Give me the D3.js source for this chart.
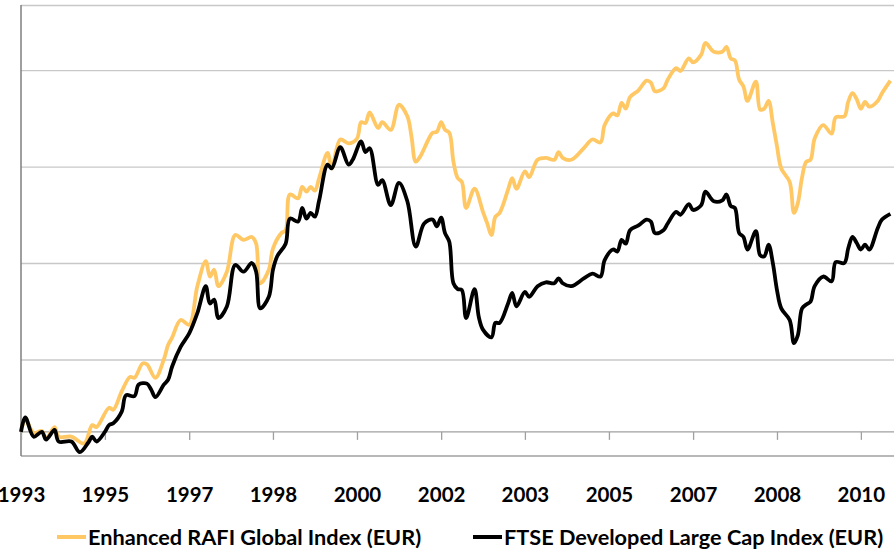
<!DOCTYPE html>
<html>
<head>
<meta charset="utf-8">
<script src="https://cdn.jsdelivr.net/npm/d3@7"></script>
<style>
  body { margin: 0; background: #fff; }
  svg text { font-family: Lato, "Open Sans", sans-serif; font-weight: 700; fill: #000; }
</style>
</head>
<body>
<div id="chart"></div>
<script>
// monthly index levels (EUR)
var rafi = [
  ["1993-10",100],["1993-11",113],["1994-01",99],["1994-03",101],["1994-04",93],["1994-06",105],["1994-07",95],["1994-10",95],
  ["1995-01",88],["1995-03",107],["1995-04",105],["1995-07",125],["1995-08",123],["1995-10",142],["1995-12",157],["1996-01",156],
  ["1996-03",171],["1996-04",170],["1996-06",156],["1996-08",175],["1996-09",190],["1996-10",198],["1996-12",216],["1997-02",211],
  ["1997-04",251],["1997-06",277],["1997-07",261],["1997-08",268],["1997-09",251],["1997-11",266],["1998-01",304],["1998-03",299],
  ["1998-05",302],["1998-06",295],["1998-07",254],["1998-09",268],["1998-10",290],["1998-12",306],["1999-01",309],["1999-02",346],
  ["1999-04",342],["1999-05",354],["1999-06",349],["1999-07",354],["1999-08",350],["1999-09",363],["1999-11",389],["1999-12",373],
  ["2000-02",403],["2000-04",399],["2000-06",404],["2000-07",421],["2000-08",420],["2000-09",431],["2000-11",415],["2000-12",421],
  ["2001-02",413],["2001-04",439],["2001-06",427],["2001-07",406],["2001-08",380],["2001-09",385],["2001-11",403],["2001-12",410],
  ["2002-01",411],["2002-02",421],["2002-03",413],["2002-04",410],["2002-05",380],["2002-06",363],["2002-07",359],["2002-08",332],
  ["2002-10",352],["2002-12",328],["2003-01",316],["2003-02",304],["2003-03",323],["2003-04",327],["2003-06",351],["2003-07",363],
  ["2003-08",352],["2003-10",370],["2003-11",364],["2004-01",382],["2004-03",384],["2004-05",382],["2004-06",390],["2004-07",384],
  ["2004-09",382],["2004-12",394],["2005-02",403],["2005-04",400],["2005-05",418],["2005-07",430],["2005-08",428],["2005-09",441],
  ["2005-10",435],["2005-11",447],["2006-01",454],["2006-03",464],["2006-04",462],["2006-05",453],["2006-07",456],["2006-08",465],
  ["2006-10",477],["2006-11",474],["2007-01",487],["2007-02",483],["2007-04",491],["2007-05",503],["2007-07",494],["2007-09",494],
  ["2007-10",499],["2007-11",487],["2007-12",485],["2008-01",465],["2008-02",458],["2008-03",443],["2008-05",463],["2008-06",434],
  ["2008-07",435],["2008-08",443],["2008-09",420],["2008-10",396],["2008-11",373],["2009-01",359],["2009-02",327],["2009-03",337],
  ["2009-04",364],["2009-05",380],["2009-06",382],["2009-07",404],["2009-09",418],["2009-11",409],["2009-12",426],["2010-02",427],
  ["2010-03",442],["2010-04",451],["2010-05",445],["2010-06",435],["2010-07",442],["2010-08",437],["2010-10",443],["2010-11",451],
  ["2011-01",464]
];

var ftse = [
  ["1993-10",100],["1993-11",115],["1994-01",95],["1994-03",100],["1994-04",92],["1994-06",102],["1994-07",90],["1994-10",90],
  ["1994-12",79],["1995-02",89],["1995-03",95],["1995-04",90],["1995-06",100],["1995-07",107],["1995-08",109],["1995-10",121],
  ["1995-11",138],["1996-01",137],["1996-02",149],["1996-04",150],["1996-05",144],["1996-06",136],["1996-08",149],["1996-09",154],
  ["1996-10",168],["1996-12",188],["1997-02",202],["1997-04",223],["1997-06",251],["1997-07",233],["1997-08",237],["1997-09",218],
  ["1997-11",230],["1998-01",273],["1998-03",266],["1998-05",275],["1998-06",266],["1998-07",228],["1998-09",240],["1998-10",268],
  ["1998-11",282],["1999-01",295],["1999-02",321],["1999-04",318],["1999-05",332],["1999-06",321],["1999-07",327],["1999-08",323],
  ["1999-09",340],["1999-11",377],["1999-12",373],["2000-02",395],["2000-04",377],["2000-05",382],["2000-07",401],["2000-08",390],
  ["2000-09",394],["2000-11",356],["2000-12",361],["2001-02",335],["2001-04",358],["2001-06",339],["2001-08",292],["2001-10",316],
  ["2001-12",320],["2002-01",313],["2002-02",322],["2002-03",306],["2002-04",297],["2002-05",254],["2002-06",248],["2002-07",247],
  ["2002-08",218],["2002-10",248],["2002-11",219],["2002-12",206],["2003-02",198],["2003-03",213],["2003-04",213],["2003-06",233],
  ["2003-07",244],["2003-08",230],["2003-10",245],["2003-11",240],["2004-01",251],["2004-03",255],["2004-05",254],["2004-06",259],
  ["2004-07",254],["2004-09",251],["2004-12",259],["2005-02",264],["2005-04",261],["2005-05",278],["2005-07",289],["2005-08",287],
  ["2005-09",299],["2005-10",295],["2005-11",309],["2006-01",314],["2006-03",320],["2006-04",318],["2006-05",306],["2006-07",309],
  ["2006-08",316],["2006-10",328],["2006-11",325],["2007-01",336],["2007-02",330],["2007-04",335],["2007-05",349],["2007-07",339],
  ["2007-09",340],["2007-10",346],["2007-11",334],["2007-12",332],["2008-01",306],["2008-02",302],["2008-03",289],["2008-05",308],
  ["2008-06",283],["2008-07",282],["2008-08",294],["2008-09",275],["2008-10",247],["2008-11",228],["2009-01",216],["2009-02",192],
  ["2009-03",200],["2009-04",228],["2009-05",232],["2009-06",235],["2009-07",251],["2009-09",261],["2009-11",256],["2009-12",276],
  ["2010-02",275],["2010-03",290],["2010-04",302],["2010-05",296],["2010-06",289],["2010-07",294],["2010-08",289],["2010-10",311],
  ["2010-11",320],["2011-01",326]
];

var tickMonths = ["1993-10","1995-06","1997-02","1998-10","2000-06","2002-02","2003-10","2005-06","2007-02","2008-10","2010-06"];
var gridValues = [175, 275, 375, 475];
var seriesNames = ["Enhanced RAFI Global Index (EUR)", "FTSE Developed Large Cap Index (EUR)"];
var seriesColors = ["#ffc864", "#000000"];

var width = 894, height = 550;
var parse = d3.timeParse("%Y-%m");

var svg = d3.select("#chart").append("svg")
    .attr("width", width)
    .attr("height", height);

var x = d3.scaleTime()
    .domain([parse("1993-10"), parse("2011-01")])
    .range([21, 890.4]);

var y = d3.scaleLinear()
    .domain([75, 542.4])
    .range([456, 5]);

// gridlines
svg.append("g")
    .attr("class", "grid")
    .attr("transform", "translate(21,0)")
    .call(d3.axisLeft(y).tickValues(gridValues.concat([542.4])).tickSize(-(width - 21)).tickFormat(""))
    .call(function (g) {
        g.select(".domain").remove();
        g.selectAll("line").attr("stroke", "#c8c8c8").attr("stroke-width", 1.3);
    });

// bottom border line
svg.append("line")
    .attr("x1", 21).attr("x2", width)
    .attr("y1", y(75)).attr("y2", y(75))
    .attr("stroke", "#a0a0a0").attr("stroke-width", 1.3);

// left axis line
svg.append("line")
    .attr("x1", 21).attr("x2", 21)
    .attr("y1", y(542.4)).attr("y2", y(75))
    .attr("stroke", "#7f7f7f").attr("stroke-width", 1.5);

// category axis crossing at 100
var xAxis = svg.append("g")
    .attr("transform", "translate(0," + y(100) + ")")
    .call(d3.axisBottom(x)
        .tickValues(tickMonths.map(parse))
        .tickFormat(d3.timeFormat("%Y"))
        .tickSize(8)
        .tickPadding(48));

xAxis.select(".domain")
    .attr("d", "M21,0H" + width)
    .attr("stroke", "#a0a0a0").attr("stroke-width", 1.3);
xAxis.selectAll(".tick line").attr("stroke", "#a0a0a0").attr("stroke-width", 1.3);
xAxis.selectAll(".tick text")
    .style("font-size", "20.5px")
    .attr("fill", "#000");

var line = d3.line()
    .x(function (d) { return x(parse(d[0])); })
    .y(function (d) { return y(d[1]); })
    .curve(d3.curveCatmullRom.alpha(0.5));

[rafi, ftse].forEach(function (s, i) {
    svg.append("path")
        .datum(s)
        .attr("fill", "none")
        .attr("stroke", seriesColors[i])
        .attr("stroke-width", 3.8)
        .attr("stroke-linejoin", "round")
        .attr("d", line);
});

// legend
var legendX = [57, 473];
seriesNames.forEach(function (name, i) {
    var g = svg.append("g").attr("transform", "translate(" + legendX[i] + ",537)");
    g.append("line")
        .attr("x1", 0).attr("x2", 29)
        .attr("stroke", seriesColors[i])
        .attr("stroke-width", 4);
    g.append("text")
        .attr("x", 31)
        .attr("y", 8)
        .style("font-size", "21.7px")
        .text(name);
});
</script>
</body>
</html>
